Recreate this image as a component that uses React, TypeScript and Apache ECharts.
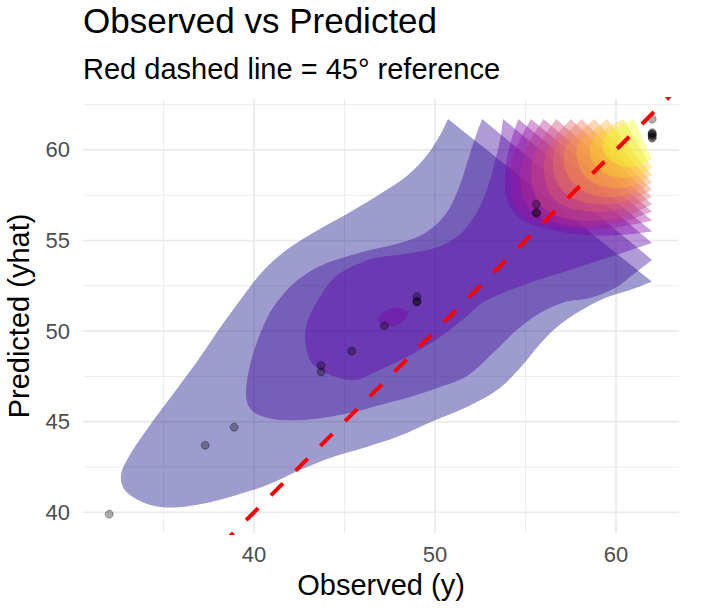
import React, { useEffect, useRef } from "react";
import * as echarts from "echarts";

const FONT = '"Liberation Sans", Arial, Helvetica, sans-serif';

// ---- axis ticks / gridlines ----
const xTickLabels = [40, 50, 60];
const yTickLabels = [40, 45, 50, 55, 60];
const xGridMinor = [35, 45, 55];
const yGridMinor = [42.5, 47.5, 52.5, 57.5, 62.5];

// ---- observed vs predicted points ----
const observedY = [32.0, 37.3, 38.9, 43.7, 43.7, 45.4, 47.2, 49.0, 49.0, 49.0, 55.6, 55.6, 55.6, 62.0, 62.0, 62.0, 62.0, 62.0, 62.0, 62.0];
const predictedYhat = [39.9, 43.7, 44.7, 48.1, 47.75, 48.9, 50.3, 51.9, 51.6, 51.65, 57.0, 56.5, 56.55, 61.7, 60.95, 60.9, 60.85, 60.8, 60.7, 60.65];

// ---- 45 degree reference line ----
const refLine = [[30, 30], [65, 65]];

// ---- density contour polygons (level index 1..13) ----
const contourL1 = [[50.72,61.71],[50.28,60.83],[49.56,59.72],[48.51,58.62],[47.13,57.68],[45.41,56.63],[43.54,55.58],[41.88,54.54],[40.55,53.38],[39.45,52.0],[38.23,50.34],[36.91,48.41],[35.36,46.31],[33.98,44.44],[33.04,43.0],[32.65,42.06],[32.82,41.29],[33.59,40.68],[34.81,40.30],[36.46,40.35],[38.67,40.85],[40.72,41.51],[42.54,42.34],[44.36,43.06],[45.86,43.50],[48.07,44.22],[49.89,45.04],[51.77,45.82],[53.43,46.75],[54.70,47.97],[55.80,49.29],[56.74,50.23],[58.01,51.11],[59.39,51.83],[60.77,52.27],[61.99,52.72]];
const contourL2 = [[52.60,61.71],[52.27,60.83],[51.82,59.45],[51.27,57.79],[50.55,56.41],[49.45,55.42],[48.07,54.87],[46.41,54.48],[45.03,54.09],[43.65,53.60],[42.43,52.83],[41.44,51.83],[40.72,50.73],[40.17,49.40],[39.78,48.13],[39.56,46.75],[39.67,45.93],[40.22,45.38],[41.44,45.10],[43.37,45.15],[45.30,45.49],[46.96,45.93],[48.62,46.37],[50.28,46.92],[51.77,47.53],[53.20,48.80],[54.53,50.07],[55.80,51.00],[57.18,51.61],[58.56,51.83],[59.94,52.38],[61.05,53.21],[61.99,53.93]];
const contourL3 = [[53.76,61.71],[53.59,60.55],[53.26,59.17],[52.82,57.68],[52.15,56.30],[51.27,55.25],[50.0,54.59],[48.34,54.26],[46.69,54.04],[45.86,53.76],[44.48,52.99],[43.54,51.72],[42.98,50.62],[42.82,49.51],[43.2,48.24],[44.36,47.52],[45.58,47.31],[46.69,47.75],[48.45,48.57],[50.28,49.68],[51.77,50.84],[52.6,51.56],[53.87,52.16],[55.52,52.77],[57.46,53.38],[59.67,54.09],[61.99,54.87]];
const contourL4a = [[54.6,61.71],[54.2,60.5],[53.9,59.0],[53.9,57.6],[54.3,56.6],[55.1,56.0],[56.4,55.6],[58.2,55.3],[60.2,55.3],[61.99,55.5]];
const contourL4b = [[46.85,50.6],[47.2,50.3],[47.8,50.3],[48.3,50.6],[48.5,51.0],[48.2,51.25],[47.6,51.25],[47.1,51.0]];
const contourL5 = [[55.3,61.71],[54.7,60.6],[54.2,59.2],[54.3,57.3],[55.0,56.3],[56.5,55.8],[58.5,55.6],[60.5,55.8],[61.99,56.1]];
const contourL6 = [[56.0,61.71],[55.3,60.6],[54.8,59.3],[54.8,57.6],[55.5,56.5],[56.9,55.9],[58.8,55.8],[60.6,56.1],[61.99,56.6]];
const contourL7 = [[56.7,61.71],[56.0,60.7],[55.4,59.5],[55.4,57.9],[56.0,56.8],[57.3,56.2],[59.1,56.1],[60.7,56.4],[61.99,57.0]];
const contourL8 = [[57.5,61.71],[56.7,60.8],[56.1,59.7],[56.1,58.2],[56.7,57.2],[57.9,56.7],[59.5,56.6],[60.9,56.9],[61.99,57.4]];
const contourL9 = [[58.1,61.71],[57.3,60.9],[56.6,59.9],[56.6,58.6],[57.2,57.6],[58.3,57.1],[59.8,57.0],[61.0,57.3],[61.99,57.8]];
const contourL10 = [[58.8,61.71],[58.0,61.0],[57.2,60.1],[57.2,58.9],[57.8,58.0],[58.8,57.5],[60.1,57.4],[61.1,57.7],[61.99,58.2]];
const contourL11 = [[59.5,61.71],[58.7,61.0],[57.9,60.3],[57.9,59.3],[58.4,58.4],[59.3,58.0],[60.4,57.9],[61.3,58.2],[61.99,58.6]];
const contourL12 = [[60.4,61.71],[59.5,61.2],[58.7,60.5],[58.6,59.6],[59.1,58.9],[59.9,58.5],[60.8,58.5],[61.5,58.7],[61.99,59.0]];
const contourL13 = [[61.0,61.71],[60.2,61.3],[59.4,60.7],[59.3,60.0],[59.7,59.4],[60.4,59.1],[61.1,59.1],[61.6,59.3],[61.99,59.5]];

const contours: { level: number; pts: number[][]; closedLoop?: boolean }[] = [
  { level: 1, pts: contourL1 },
  { level: 2, pts: contourL2 },
  { level: 3, pts: contourL3 },
  { level: 4, pts: contourL4a },
  { level: 4, pts: contourL4b, closedLoop: true },
  { level: 5, pts: contourL5 },
  { level: 6, pts: contourL6 },
  { level: 7, pts: contourL7 },
  { level: 8, pts: contourL8 },
  { level: 9, pts: contourL9 },
  { level: 10, pts: contourL10 },
  { level: 11, pts: contourL11 },
  { level: 12, pts: contourL12 },
  { level: 13, pts: contourL13 },
];

// plasma palette, one colour per level
const levelColors = ["#0d0887", "#380599", "#5c01a4", "#7e03a8", "#9a179d", "#b52f8c", "#cc4778", "#de5f65", "#ed7953", "#f89540", "#fdb32f", "#f8d525", "#f0f921"];
const FILL_ALPHA = 0.4;

const X_MIN = 30.55, X_MAX = 63.48, Y_MIN = 38.86, Y_MAX = 62.81;

function rgba(hex: string, a: number) {
  const n = parseInt(hex.slice(1), 16);
  return `rgba(${(n >> 16) & 255},${(n >> 8) & 255},${n & 255},${a})`;
}

type GridLine = { dir: "x" | "y"; v: number; major: boolean };
const gridLines: GridLine[] = [
  ...xGridMinor.map((v) => ({ dir: "x" as const, v, major: false })),
  ...yGridMinor.map((v) => ({ dir: "y" as const, v, major: false })),
  ...xTickLabels.map((v) => ({ dir: "x" as const, v, major: true })),
  ...yTickLabels.map((v) => ({ dir: "y" as const, v, major: true })),
];

export default function App() {
  const ref = useRef<HTMLDivElement>(null);
  useEffect(() => {
    const chart = echarts.init(ref.current!, null, { renderer: "svg" });
    const option: any = {
      animation: false,
      backgroundColor: "#ffffff",
      title: [
        {
          text: "Observed vs Predicted",
          left: 83,
          top: 3,
          padding: 0,
          textStyle: { fontSize: 35, fontWeight: "normal", color: "#000000", fontFamily: FONT },
        },
        {
          text: "Red dashed line = 45° reference",
          left: 83,
          top: 54,
          padding: 0,
          textStyle: { fontSize: 29, fontWeight: "normal", color: "#000000", fontFamily: FONT },
        },
      ],
      grid: { left: 83, right: 24, top: 99, bottom: 78, containLabel: false, outerBoundsMode: "none" },
      xAxis: {
        type: "value",
        min: X_MIN,
        max: X_MAX,
        axisLine: { show: false },
        axisTick: { show: false },
        splitLine: { show: false },
        axisLabel: {
          customValues: xTickLabels,
          fontSize: 22,
          color: "#4d4d4d",
          margin: 10,
          fontFamily: FONT,
        },
        name: "Observed (y)",
        nameLocation: "middle",
        nameGap: 37,
        nameTextStyle: { fontSize: 29, color: "#000000", fontFamily: FONT },
      },
      yAxis: {
        type: "value",
        min: Y_MIN,
        max: Y_MAX,
        axisLine: { show: false },
        axisTick: { show: false },
        splitLine: { show: false },
        axisLabel: {
          customValues: yTickLabels,
          fontSize: 22,
          color: "#4d4d4d",
          margin: 13,
          fontFamily: FONT,
        },
        name: "Predicted (yhat)",
        nameLocation: "middle",
        nameRotate: 90,
        nameGap: 50,
        nameTextStyle: { fontSize: 29, color: "#000000", fontFamily: FONT },
      },
      series: [
        {
          type: "custom",
          name: "grid",
          silent: true,
          z: 1,
          data: gridLines.map((_, i) => [i]),
          renderItem: (params: any, api: any) => {
            const g = gridLines[params.dataIndex];
            const cs = params.coordSys;
            const style = { stroke: "#ebebeb", lineWidth: g.major ? 1.8 : 0.9, fill: null };
            if (g.dir === "x") {
              const p = api.coord([g.v, Y_MIN]);
              return { type: "line", shape: { x1: p[0], y1: cs.y, x2: p[0], y2: cs.y + cs.height }, style };
            }
            const p = api.coord([X_MIN, g.v]);
            return { type: "line", shape: { x1: cs.x, y1: p[1], x2: cs.x + cs.width, y2: p[1] }, style };
          },
        },
        {
          type: "custom",
          name: "density",
          silent: true,
          z: 2,
          data: contours.map((_, i) => [i]),
          renderItem: (params: any, api: any) => {
            const c = contours[params.dataIndex];
            let pts = c.pts.map((p) => api.coord(p));
            if (!c.closedLoop) {
              // keep the straight closing chord: duplicate its two end points
              pts = [pts[0], ...pts, pts[pts.length - 1]];
            }
            return {
              type: "polygon",
              shape: { points: pts, smooth: 0.35 },
              style: { fill: rgba(levelColors[c.level - 1], FILL_ALPHA), stroke: null },
            };
          },
        },
        {
          type: "scatter",
          name: "points",
          z: 3,
          silent: true,
          symbolSize: 8,
          data: observedY.map((x, i) => [x, predictedYhat[i]]),
          itemStyle: { color: "rgba(0,0,0,0.4)", borderColor: "rgba(0,0,0,0.4)", borderWidth: 1 },
        },
        {
          type: "line",
          name: "reference",
          z: 4,
          silent: true,
          symbol: "none",
          data: refLine,
          lineStyle: { color: "#ff0000", width: 4, type: [17, 18] },
        },
      ],
    };
    chart.setOption(option);
    return () => chart.dispose();
  }, []);
  return (
    <div
      ref={ref}
      style={{ position: "absolute", left: 0, top: 0, width: 703, height: 611, background: "#ffffff" }}
    />
  );
}
